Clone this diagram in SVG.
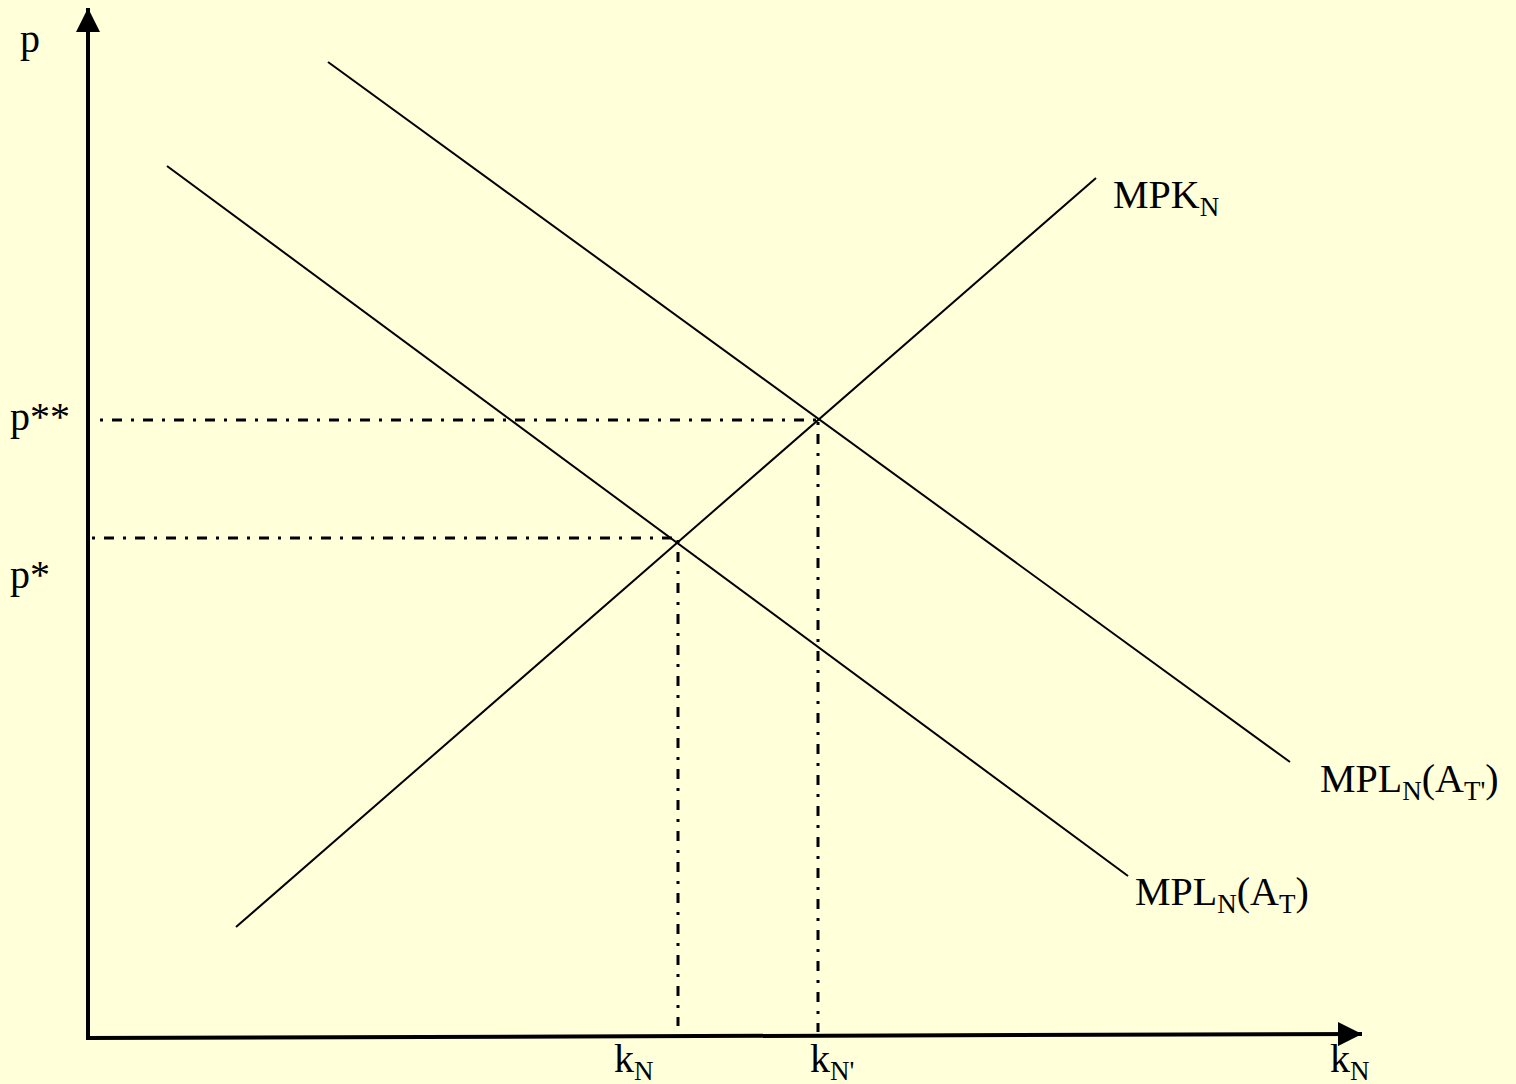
<svg xmlns="http://www.w3.org/2000/svg" width="1516" height="1084" viewBox="0 0 1516 1084">
<style>
.t{font-family:"Liberation Serif","Times New Roman",serif;fill:#000;font-size:40px}
.s{font-size:27px}
.c{stroke:#000;stroke-width:2;fill:none}
.d{stroke:#000;stroke-width:3;fill:none;stroke-dasharray:3 9 10 9}
.ax{stroke:#000;stroke-width:4;fill:none}
</style>
<defs>
<marker id="ah" viewBox="0 0 10 10" refX="10" refY="5" markerWidth="6" markerHeight="6" markerUnits="strokeWidth" orient="auto">
<path d="M0,0 L10,5 L0,10 Z" fill="#000"/>
</marker>
</defs>
<rect width="1516" height="1084" fill="#FFFFDA"/>
<g id="axes">
<line class="ax" x1="88" y1="1040" x2="88" y2="8" marker-end="url(#ah)"/>
<line class="ax" x1="86" y1="1038" x2="1362" y2="1034" marker-end="url(#ah)"/>
</g>
<g id="connectors">
<line class="c" x1="236" y1="927" x2="1096" y2="178"/>
<line class="c" x1="328" y1="62" x2="1290" y2="762"/>
<line class="c" x1="167" y1="166" x2="1128" y2="876"/>
<line class="d" x1="100" y1="420" x2="820" y2="420"/>
<line class="d" x1="92" y1="538" x2="678" y2="538"/>
<line class="d" x1="678" y1="540" x2="678" y2="1026"/>
<line class="d" x1="818" y1="422" x2="818" y2="1032"/>
</g>
<g id="label-p"><text class="t" x="20" y="52">p</text></g>
<g id="label-pss"><text class="t" x="10" y="430">p**</text></g>
<g id="label-ps"><text class="t" x="10" y="588">p*</text></g>
<g id="label-mpk"><text class="t" x="1113" y="208">MPK<tspan class="s" dy="8">N</tspan></text></g>
<g id="label-mplt2"><text class="t" x="1320" y="792">MPL<tspan class="s" dy="8">N</tspan><tspan dy="-8">(A</tspan><tspan class="s" dy="8">T'</tspan><tspan dy="-8">)</tspan></text></g>
<g id="label-mplt"><text class="t" x="1135" y="905">MPL<tspan class="s" dy="8">N</tspan><tspan dy="-8">(A</tspan><tspan class="s" dy="8">T</tspan><tspan dy="-8">)</tspan></text></g>
<g id="label-kn"><text class="t" x="614" y="1072">k<tspan class="s" dy="8">N</tspan></text></g>
<g id="label-kn2"><text class="t" x="810" y="1072">k<tspan class="s" dy="8">N'</tspan></text></g>
<g id="label-knaxis"><text class="t" x="1330" y="1072">k<tspan class="s" dy="8">N</tspan></text></g>
</svg>
